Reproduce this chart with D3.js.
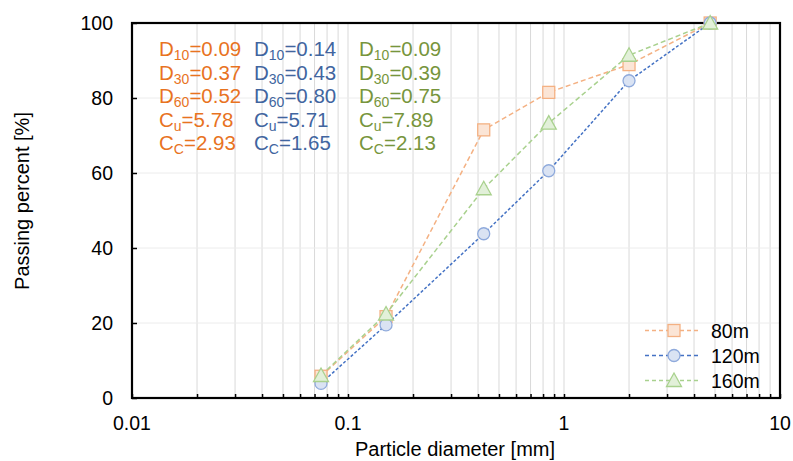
<!DOCTYPE html>
<html>
<head>
<meta charset="utf-8">
<script src="https://cdn.jsdelivr.net/npm/d3@7"></script>
<style>
  html, body { margin: 0; padding: 0; background: #fff; }
  svg { display: block; font-family: "Liberation Sans", Arial, sans-serif; }
</style>
</head>
<body>
<svg id="chart" width="793" height="461"></svg>
<script>
// Sieve sizes [mm] and passing percentages for each sampling depth
const sieveSizes = [0.075, 0.15, 0.425, 0.85, 2, 4.75];
const passing80  = [5.8, 21.7, 71.5, 81.5, 88.9, 100];
const passing120 = [3.9, 19.5, 43.8, 60.6, 84.6, 100];
const passing160 = [6.0, 22.4, 55.8, 73.3, 91.4, 100];
const seriesNames = ["80m", "120m", "160m"];

// Gradation parameters per series: [D10, D30, D60, Cu, Cc]
const params80  = ["0.09", "0.37", "0.52", "5.78", "2.93"];
const params120 = ["0.14", "0.43", "0.80", "5.71", "1.65"];
const params160 = ["0.09", "0.39", "0.75", "7.89", "2.13"];

const xTickLabels = ["0.01", "0.1", "1", "10"];
const yTickValues = [0, 20, 40, 60, 80, 100];

const svg = d3.select("#chart");
const plotL = 132, plotR = 780, plotT = 23, plotB = 398;

const x = d3.scaleLog().domain([0.01, 10]).range([plotL, plotR]);
const y = d3.scaleLinear().domain([0, 100]).range([plotB, plotT]);

// minor/major positions of the log axis
const logTicks = [];
[0.01, 0.1, 1].forEach(dec => { for (let k = 1; k <= 9; k++) logTicks.push(dec * k); });
logTicks.push(10);

// vertical grid
svg.append("g").selectAll("line").data(logTicks.filter(v => v > 0.011 && v < 9.9)).join("line")
  .attr("x1", d => x(d)).attr("x2", d => x(d))
  .attr("y1", plotT).attr("y2", plotB)
  .attr("stroke", "#d9d9d9").attr("stroke-width", 1);

// horizontal grid
svg.append("g").selectAll("line").data(yTickValues.filter(v => v > 0 && v < 100)).join("line")
  .attr("x1", plotL).attr("x2", plotR)
  .attr("y1", d => y(d)).attr("y2", d => y(d))
  .attr("stroke", "#ececec").attr("stroke-width", 1);

// inside ticks on bottom axis
const xAxis = d3.axisBottom(x).tickValues(logTicks).tickSize(-4).tickFormat("");
const gx = svg.append("g").attr("transform", `translate(0,${plotB})`).call(xAxis);
gx.select(".domain").remove();
gx.selectAll(".tick line").attr("stroke", "#000").attr("stroke-width", 1.5);

// inside ticks on left axis
const yAxis = d3.axisLeft(y).tickValues(yTickValues).tickSize(-5).tickFormat("");
const gy = svg.append("g").attr("transform", `translate(${plotL},0)`).call(yAxis);
gy.select(".domain").remove();
gy.selectAll(".tick line").attr("stroke", "#000").attr("stroke-width", 1.5);

// tick labels
svg.append("g").selectAll("text").data(xTickLabels).join("text")
  .attr("x", d => x(+d)).attr("y", 430)
  .attr("text-anchor", "middle").attr("font-size", 19.5).attr("fill", "#000")
  .text(d => d);
svg.append("g").selectAll("text").data(yTickValues).join("text")
  .attr("x", 113).attr("y", d => y(d) + 7)
  .attr("text-anchor", "end").attr("font-size", 19.5).attr("fill", "#000")
  .text(d => d);

// frame
svg.append("rect").attr("x", plotL).attr("y", plotT)
  .attr("width", plotR - plotL).attr("height", plotB - plotT)
  .attr("fill", "none").attr("stroke", "#000").attr("stroke-width", 2.2);

// axis titles
svg.append("text").attr("x", 455).attr("y", 456)
  .attr("text-anchor", "middle").attr("font-size", 20).text("Particle diameter [mm]");
svg.append("text").attr("transform", "translate(29,201) rotate(-90)")
  .attr("text-anchor", "middle").attr("font-size", 20).text("Passing percent [%]");

// series styling
const styles = [
  { values: passing80,  line: "#f4b183", dash: "5,3", fill: "#fbe5d6", stroke: "#f4b183", marker: "square" },
  { values: passing120, line: "#4472c4", dash: "3,2", fill: "#dae3f3", stroke: "#8faadc", marker: "circle" },
  { values: passing160, line: "#a9d18e", dash: "5,3", fill: "#e2f0d9", stroke: "#a9d18e", marker: "triangle" }
];

function drawMarker(g, type, cx, cy, s) {
  if (type === "square") {
    g.append("rect").attr("x", cx - 6).attr("y", cy - 6).attr("width", 12).attr("height", 12)
      .attr("fill", s.fill).attr("stroke", s.stroke).attr("stroke-width", 1.3);
  } else if (type === "circle") {
    g.append("circle").attr("cx", cx).attr("cy", cy).attr("r", 6)
      .attr("fill", s.fill).attr("stroke", s.stroke).attr("stroke-width", 1.3);
  } else {
    g.append("path").attr("d", `M${cx},${cy - 7.5}L${cx + 7.5},${cy + 6}L${cx - 7.5},${cy + 6}Z`)
      .attr("fill", s.fill).attr("stroke", s.stroke).attr("stroke-width", 1.3);
  }
}

const line = d3.line().x(d => x(d[0])).y(d => y(d[1]));

styles.forEach(s => {
  const pts = sieveSizes.map((d, i) => [d, s.values[i]]);
  svg.append("path").datum(pts).attr("d", line)
    .attr("fill", "none").attr("stroke", s.line).attr("stroke-width", 1.5)
    .attr("stroke-dasharray", s.dash);
});
styles.forEach(s => {
  const g = svg.append("g");
  sieveSizes.forEach((d, i) => drawMarker(g, s.marker, x(d), y(s.values[i]), s));
});

// legend
const legendRows = [330.5, 355.5, 380.5];
styles.forEach((s, i) => {
  const g = svg.append("g");
  g.append("line").attr("x1", 645).attr("x2", 701)
    .attr("y1", legendRows[i]).attr("y2", legendRows[i])
    .attr("stroke", s.line).attr("stroke-width", 1.5).attr("stroke-dasharray", "4,3");
  drawMarker(g, s.marker, 674, legendRows[i], s);
  g.append("text").attr("x", 711).attr("y", legendRows[i] + 7)
    .attr("font-size", 19.5).attr("fill", "#000").text(seriesNames[i]);
});

// gradation parameter annotations
const paramLabels = [["D", "10"], ["D", "30"], ["D", "60"], ["C", "u"], ["C", "C"]];
const annotations = [
  { vals: params80,  x: 159, color: "#e8731f" },
  { vals: params120, x: 254, color: "#41659f" },
  { vals: params160, x: 359, color: "#77953c" }
];
const rowBaselines = [56, 79.5, 103, 126.5, 150];
annotations.forEach(a => {
  a.vals.forEach((v, i) => {
    const t = svg.append("text").attr("x", a.x).attr("y", rowBaselines[i])
      .attr("font-size", 20.5).attr("fill", a.color);
    t.append("tspan").text(paramLabels[i][0]);
    t.append("tspan").attr("font-size", 14).attr("dy", 4).text(paramLabels[i][1]);
    t.append("tspan").attr("dy", -4).text("=" + v);
  });
});
</script>
</body>
</html>
